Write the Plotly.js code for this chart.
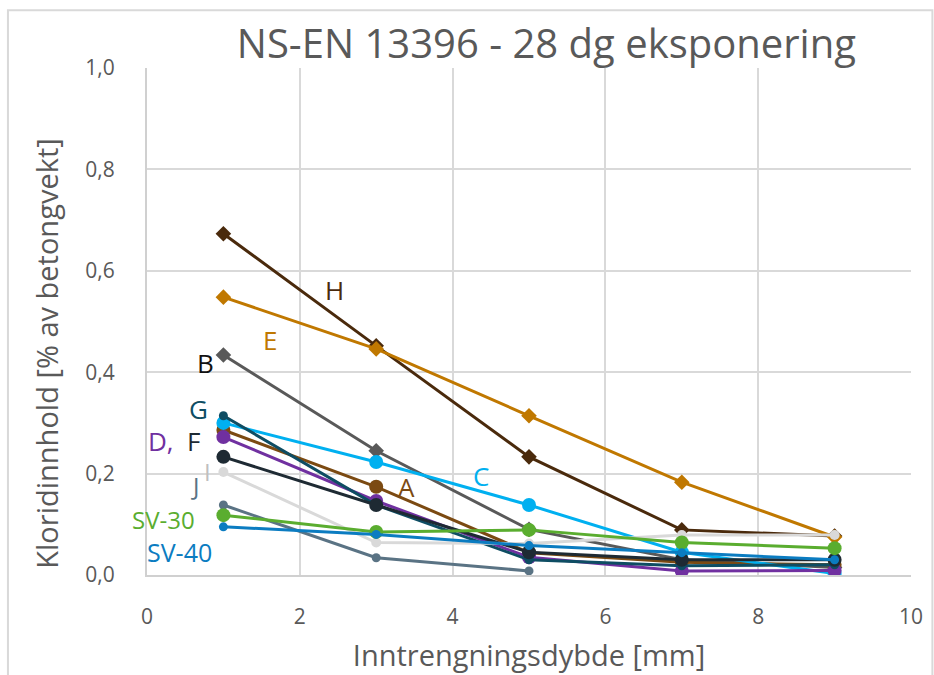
<!DOCTYPE html>
<html>
<head>
<meta charset="utf-8">
<script src="https://cdn.plot.ly/plotly-3.0.1.min.js"></script>
<style>html,body{margin:0;padding:0;background:#fff;}#chart{width:934px;height:675px;}</style>
</head>
<body>
<div id="chart"></div>
<script>
const depth = [1, 3, 5, 7, 9];
const depthJ = [1, 3, 5];
const seriesH = [0.673, 0.452, 0.233, 0.089, 0.077];
const seriesE = [0.548, 0.446, 0.314, 0.183, 0.075];
const seriesB = [0.434, 0.245, 0.090, 0.030, 0.015];
const seriesA = [0.286, 0.174, 0.044, 0.025, 0.020];
const seriesC = [0.300, 0.223, 0.138, 0.045, 0.003];
const seriesD = [0.272, 0.146, 0.035, 0.008, 0.009];
const seriesG = [0.314, 0.138, 0.030, 0.018, 0.020];
const seriesF = [0.233, 0.138, 0.045, 0.030, 0.030];
const seriesJ = [0.138, 0.034, 0.008];
const seriesSV30 = [0.118, 0.085, 0.089, 0.064, 0.053];
const seriesSV40 = [0.095, 0.080, 0.058, 0.044, 0.030];
const seriesI = [0.203, 0.064, 0.062, 0.079, 0.079];

const labelNames = ['H', 'E', 'B', 'G', 'D,', 'F', 'I', 'J', 'SV-30', 'SV-40', 'A', 'C'];
const labelX = [2.46, 1.61, 0.77, 0.68, 0.18, 0.61, 0.79, 0.63, 0.21, 0.43, 3.40, 4.37];
const labelY = [0.563, 0.464, 0.419, 0.328, 0.265, 0.265, 0.204, 0.177, 0.109, 0.046, 0.173, 0.196];
const labelSizes = [26, 26, 26, 26, 26, 26, 24, 24, 24, 25, 26, 26];
const labelColors = ['#4a2a0c', '#c07800', '#111111', '#0e4d63', '#7030a0', '#1e2a33', '#bfbfbf', '#5a7384', '#5aad2f', '#0b7cc1', '#7b4a12', '#00b0f0'];

function tr(name, x, y, color, symbol, size) {
  return {
    type: 'scatter', mode: 'lines+markers', name: name, x: x, y: y,
    line: {color: color, width: 3},
    marker: {color: color, symbol: symbol, size: size},
    hoverinfo: 'x+y+name'
  };
}

const data = [
  tr('H', depth, seriesH, '#4a2a0c', 'diamond', 12),
  tr('E', depth, seriesE, '#c07800', 'diamond', 12),
  tr('B', depth, seriesB, '#595959', 'diamond', 12),
  tr('A', depth, seriesA, '#7b4a12', 'circle', 14),
  tr('C', depth, seriesC, '#00b0f0', 'circle', 14),
  tr('D', depth, seriesD, '#7030a0', 'circle', 14),
  tr('G', depth, seriesG, '#0e4d63', 'circle', 9),
  tr('F', depth, seriesF, '#1e2a33', 'circle', 14),
  tr('J', depthJ, seriesJ, '#5a7384', 'circle', 9),
  tr('I', depth, seriesI, '#d9d9d9', 'circle', 10),
  tr('SV-30', depth, seriesSV30, '#5aad2f', 'circle', 14),
  tr('SV-40', depth, seriesSV40, '#0b7cc1', 'circle', 9)
];

const annotations = labelNames.map((t, i) => ({
  x: labelX[i], y: labelY[i], xref: 'x', yref: 'y', text: t, showarrow: false,
  font: {family: 'Open Sans, sans-serif', size: labelSizes[i], color: labelColors[i]},
  xanchor: 'center', yanchor: 'middle', borderpad: 0
}));
annotations.push({
  xref: 'paper', yref: 'paper', x: (47 - 147) / 764, y: (575.5 - 354) / 507.5,
  text: 'Kloridinnhold [% av betongvekt]', textangle: -90, showarrow: false,
  xanchor: 'center', yanchor: 'middle',
  font: {family: 'Open Sans, sans-serif', size: 29, color: '#595959'}
});

const layout = {
  width: 934, height: 675,
  margin: {l: 147, r: 23, t: 68, b: 100},
  paper_bgcolor: '#ffffff', plot_bgcolor: '#ffffff',
  showlegend: false,
  separators: ', ',
  font: {family: 'Open Sans, sans-serif', color: '#595959'},
  title: {
    text: 'NS-EN 13396 - 28 dg eksponering',
    font: {family: 'Open Sans, sans-serif', size: 40, color: '#595959'},
    x: 0.585, xanchor: 'center', y: 0.935, yanchor: 'middle'
  },
  xaxis: {
    range: [0, 10], dtick: 2, tick0: 0,
    showgrid: true, gridcolor: '#d9d9d9', gridwidth: 2,
    zeroline: false, showline: true, linecolor: '#d0d0d0', linewidth: 2,
    ticks: '', ticklabelstandoff: 22,
    tickfont: {size: 21, color: '#595959'},
    title: {text: 'Inntrengningsdybde [mm]', font: {size: 29, color: '#595959'}, standoff: 16}
  },
  yaxis: {
    range: [0, 1.0], dtick: 0.2, tick0: 0, tickformat: '.1f',
    showgrid: true, gridcolor: '#d9d9d9', gridwidth: 2,
    zeroline: false, showline: true, linecolor: '#d0d0d0', linewidth: 2,
    ticks: '', ticklabelstandoff: 26,
    tickfont: {size: 21, color: '#595959'}
  },
  annotations: annotations,
  shapes: [{
    type: 'rect', xref: 'paper', yref: 'paper',
    x0: -0.182, x1: 1.028, y0: -0.2, y1: 1.114,
    line: {color: '#d9d9d9', width: 2}, fillcolor: 'rgba(0,0,0,0)', layer: 'below'
  }]
};

Plotly.newPlot('chart', data, layout, {displayModeBar: false, staticPlot: true});
</script>
</body>
</html>
